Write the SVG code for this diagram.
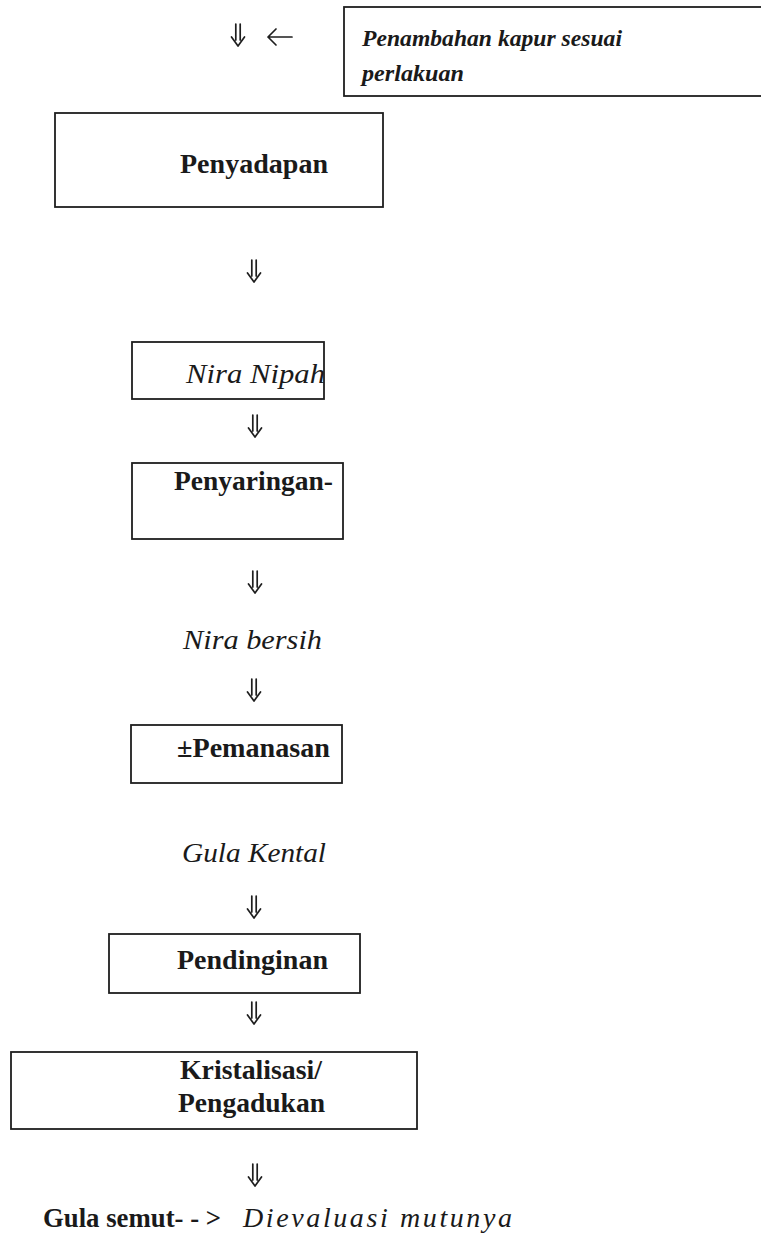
<svg xmlns="http://www.w3.org/2000/svg" width="761" height="1247" viewBox="0 0 761 1247">
<style>
.box{fill:#fff;stroke:#1e1e1e;stroke-width:1.8}
.t{font-family:"Liberation Serif","Times New Roman",serif;font-size:28px;fill:#1a1a1a}
.t.s{font-size:24px}
.b{font-weight:bold}
.i{font-style:italic}
.arr{fill:none;stroke:#1e1e1e;stroke-width:1.7;stroke-linecap:round;stroke-linejoin:round}
</style>
<defs>
<path id="dd" d="M-2.2,0 V16 M2.2,0 V16 M-6.5,13 L0,22 L6.5,13"/>
</defs>
<rect width="761" height="1247" fill="#fff"/>
<g id="connectors">
<use href="#dd" class="arr" x="238" y="24"/>
<path class="arr" d="M268,37 H292 M276,29 L268,37 L276,45" stroke-width="2"/>
<use href="#dd" class="arr" x="254" y="260"/>
<use href="#dd" class="arr" x="255" y="415"/>
<use href="#dd" class="arr" x="255" y="571"/>
<use href="#dd" class="arr" x="254" y="679"/>
<use href="#dd" class="arr" x="254" y="896"/>
<use href="#dd" class="arr" x="254" y="1002"/>
<use href="#dd" class="arr" x="255" y="1164"/>
</g>
<g id="node-kapur">
<rect class="box" x="344" y="7" width="430" height="89"/>
<text class="t s b i" x="362" y="46" textLength="260" lengthAdjust="spacingAndGlyphs">Penambahan kapur sesuai</text>
<text class="t s b i" x="362" y="81" textLength="102" lengthAdjust="spacingAndGlyphs">perlakuan</text>
</g>
<g id="node-penyadapan">
<rect class="box" x="55" y="113" width="328" height="94"/>
<text class="t b" x="180" y="173" textLength="148" lengthAdjust="spacingAndGlyphs">Penyadapan</text>
</g>
<g id="node-nira-nipah">
<rect class="box" x="132" y="342" width="192" height="57"/>
<text class="t i" x="186" y="383" textLength="139" lengthAdjust="spacingAndGlyphs">Nira Nipah</text>
</g>
<g id="node-penyaringan">
<rect class="box" x="132" y="463" width="211" height="76"/>
<text class="t b" x="174" y="490" textLength="159" lengthAdjust="spacingAndGlyphs">Penyaringan-</text>
</g>
<g id="node-nira-bersih">
<text class="t i" x="183" y="649" textLength="139" lengthAdjust="spacingAndGlyphs">Nira bersih</text>
</g>
<g id="node-pemanasan">
<rect class="box" x="131" y="725" width="211" height="58"/>
<text class="t b" x="177" y="757" textLength="153" lengthAdjust="spacingAndGlyphs">±Pemanasan</text>
</g>
<g id="node-gula-kental">
<text class="t i" x="182" y="862" textLength="144" lengthAdjust="spacingAndGlyphs">Gula Kental</text>
</g>
<g id="node-pendinginan">
<rect class="box" x="109" y="934" width="251" height="59"/>
<text class="t b" x="177" y="969" textLength="151" lengthAdjust="spacingAndGlyphs">Pendinginan</text>
</g>
<g id="node-kristalisasi">
<rect class="box" x="11" y="1052" width="406" height="77"/>
<text class="t b" x="180" y="1079" textLength="142" lengthAdjust="spacingAndGlyphs">Kristalisasi/</text>
<text class="t b" x="178" y="1112" textLength="147" lengthAdjust="spacingAndGlyphs">Pengadukan</text>
</g>
<g id="node-gula-semut">
<text class="t b" x="43" y="1227" textLength="178" lengthAdjust="spacingAndGlyphs">Gula semut- - &gt;</text>
<text class="t i" x="243" y="1227" textLength="269" lengthAdjust="spacing">Dievaluasi mutunya</text>
</g>
</svg>
